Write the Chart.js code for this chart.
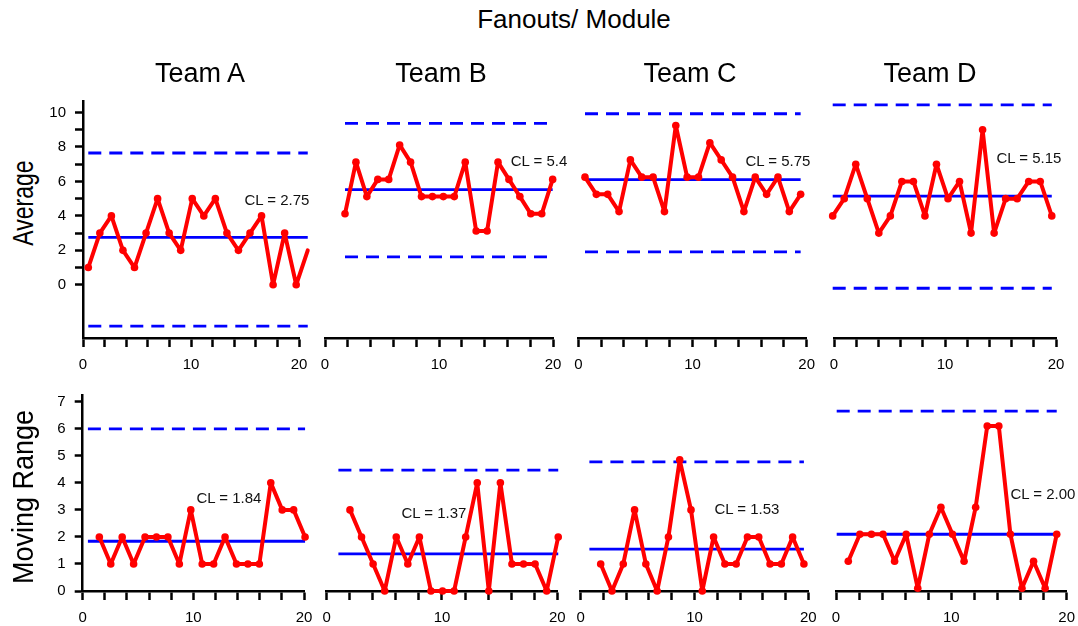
<!DOCTYPE html>
<html><head><meta charset="utf-8">
<script src="https://cdn.jsdelivr.net/npm/chart.js@4.4.0/dist/chart.umd.min.js"></script>
<style>
body{margin:0;background:#fff;width:1078px;height:626px;overflow:hidden;position:relative;font-family:"Liberation Sans",Arial,sans-serif;}
.t{position:absolute;white-space:nowrap;color:#000;transform:translate(-50%,-50%);line-height:1;}
canvas{position:absolute;}
</style></head><body>
<script>
// ---------------- DATA ----------------
const teams = ['Team A','Team B','Team C','Team D'];
const avgIndex = [1,2,3,4,5,6,7,8,9,10,11,12,13,14,15,16,17,18,19,20];
const mrIndex  = [2,3,4,5,6,7,8,9,10,11,12,13,14,15,16,17,18,19,20];
const avgA = [1,3,4,2,1,3,5,3,2,5,4,5,3,2,3,4,0,3,0,2];
const avgB = [4,7,5,6,6,8,7,5,5,5,5,7,3,3,7,6,5,4,4,6];
const avgC = [6,5,5,4,7,6,6,4,9,6,6,8,7,6,4,6,5,6,4,5];
const avgD = [4,5,7,5,3,4,6,6,4,7,5,6,3,9,3,5,5,6,6,4];
const mrA = [2,1,2,1,2,2,2,1,3,1,1,2,1,1,1,4,3,3,2];
const mrB = [3,2,1,0,2,1,2,0,0,0,2,4,0,4,1,1,1,0,2];
const mrC = [1,0,1,3,1,0,2,4.85,3,0,2,1,1,2,2,1,1,2,1];
const mrD = [1,2,2,2,1,2,0,2,3,2,1,3,6,6,2,0,1,0,2];
const avgCL  = [2.75, 5.4, 5.85, 5.15];
const avgUCL = [7.65, 9.25, 9.68, 10.45];
const avgLCL = [-2.4, 1.5, 1.66, -0.2];
const mrCL  = [1.84, 1.37, 1.55, 2.0];
const mrUCL = [6.0, 4.47, 4.78, 6.55];
const avgCLText = ['CL = 2.75','CL = 5.4','CL = 5.75','CL = 5.15'];
const mrCLText  = ['CL = 1.84','CL = 1.37','CL = 1.53','CL = 2.00'];
const avgTickMarks  = [0,1,2,3,4,5,6,7,8,9,10];
const avgTickLabels = [0,2,4,6,8,10];
const mrTickMarks  = [0,1,2,3,4,5,6,7];
const mrTickLabels = [0,1,2,3,4,5,6,7];
const xTickMarks  = [0,2,4,6,8,10,12,14,16,18,20];
const xTickLabels = [0,10,20];
const avgSeries = [avgA, avgB, avgC, avgD];
const mrSeries  = [mrA, mrB, mrC, mrD];

// ---------------- LAYOUT ----------------
const FONT = '"Liberation Sans", Arial, sans-serif';
const RED = '#ff0000', BLUE = '#0000ff';
const TOP = {T:101.7, B:338.3, ymin:-3.09, ymax:10.63};
const BOT = {T:395, B:590.7, ymin:0, ymax:7.25};
const topPanels = [
  {L:83,    R:299,    p1:88.3,  s:11.55, shift:0},
  {L:325,   R:553,    p1:345,   s:10.93, shift:0.12},
  {L:578.3, R:806.7,  p1:585,   s:11.35, shift:0.25},
  {L:834,   R:1056,   p1:832.7, s:11.53, shift:0}
];
const botPanels = [
  {L:82.7,  R:304,    p1:87.9,  s:11.43, shift:0},
  {L:326.7, R:557.3,  p1:338.4, s:11.57, shift:0},
  {L:580.7, R:808.3,  p1:589.4, s:11.29, shift:0},
  {L:836,   R:1066.7, p1:836.7, s:11.58, shift:0.1}
];
const avgLabelPos = [[277,199],[539,160],[778,160],[1029,157]];
const mrLabelPos  = [[229,497],[434,512],[747,508],[1043,493]];
const teamPos = [200,441,690,930];

function addText(txt, x, y, size, extra){
  const d = document.createElement('div');
  d.className = 't';
  d.textContent = txt;
  d.style.left = x + 'px'; d.style.top = y + 'px';
  d.style.fontSize = size + 'px';
  if (extra) Object.assign(d.style, extra);
  document.body.appendChild(d);
}

function makePanel(p, row, idx, xs, ys, cl, ucl, lcl, tickMarks, tickLabels){
  const yw = idx === 0 ? 43 : 0;
  const xh = 40;
  const padTop = 22, padRight = 22, padLeft = idx === 0 ? 0 : 14;
  const left = Math.round(p.L - yw - padLeft);
  const top = Math.round(row.T - padTop);
  const width = Math.round(p.R + padRight) - left;
  const height = Math.round(row.B + xh) - top;
  const cv = document.createElement('canvas');
  cv.width = width; cv.height = height;
  cv.style.left = left + 'px'; cv.style.top = top + 'px';
  cv.style.width = width + 'px'; cv.style.height = height + 'px';
  document.body.appendChild(cv);
  const realPadLeft = p.L - yw - left;
  const realPadTop = row.T - top;
  const realPadRight = left + width - p.R;

  const last = xs[xs.length-1];
  const lineOpts = {borderColor:BLUE, borderWidth:2.8, pointRadius:0, xAxisID:'xd', yAxisID:'y', clip:false};
  const datasets = [
    {data: xs.map((x,i)=>({x:x, y:ys[i]})), borderColor:RED, backgroundColor:RED,
     borderWidth:4, pointRadius:3.8, pointBackgroundColor:RED, pointBorderWidth:0,
     borderJoinStyle:'round', borderCapStyle:'round',
     xAxisID:'xd', yAxisID:'y', clip:false, tension:0},
    Object.assign({data:[{x:1,y:cl},{x:last,y:cl}]}, lineOpts),
    Object.assign({data:[{x:1,y:ucl},{x:last,y:ucl}], borderDash:[13,8]}, lineOpts)
  ];
  if (lcl !== null) datasets.push(Object.assign({data:[{x:1,y:lcl},{x:last,y:lcl}], borderDash:[13,8]}, lineOpts));

  new Chart(cv, {
    type:'line',
    data:{datasets},
    options:{
      responsive:false, animation:false, events:[],
      layout:{padding:{left:realPadLeft, top:realPadTop, right:realPadRight, bottom:0}},
      plugins:{legend:{display:false}, tooltip:{enabled:false}},
      scales:{
        x:{type:'linear', position:'bottom', min:0, max:20,
           afterBuildTicks: ax => { ax.ticks = xTickMarks.map(v=>({value:v})); },
           ticks:{autoSkip:false, maxRotation:0, padding:9, color:'#000',
             font:{family:FONT, size:15},
             callback: v => xTickLabels.includes(v) ? String(v) : ''},
           grid:{drawOnChartArea:false, drawTicks:true, tickLength:9, tickWidth:2.5, tickColor:'#000'},
           border:{display:true, color:'#000', width:2.5},
           afterFit: s => { s.height = xh; }},
        xd:{type:'linear', display:false, position:'bottom',
            min: 1 - (p.p1 - p.L)/p.s, max: 1 + (p.R - p.p1)/p.s},
        y:{type:'linear', display: idx === 0, position:'left',
           min: row.ymin - p.shift, max: row.ymax - p.shift,
           afterBuildTicks: ax => { ax.ticks = tickMarks.map(v=>({value:v})); },
           ticks:{autoSkip:false, padding:9, color:'#000', font:{family:FONT, size:15},
             callback: v => tickLabels.includes(v) ? String(v) : ''},
           grid:{drawOnChartArea:false, drawTicks:true, tickLength:8, tickWidth:2.5, tickColor:'#000'},
           border:{display:true, color:'#000', width:2.5},
           afterFit: s => { s.width = yw; }}
      }
    }
  });
}

for (let i = 0; i < 4; i++){
  makePanel(topPanels[i], TOP, i, avgIndex, avgSeries[i], avgCL[i], avgUCL[i], avgLCL[i], avgTickMarks, avgTickLabels);
  makePanel(botPanels[i], BOT, i, mrIndex, mrSeries[i], mrCL[i], mrUCL[i], null, mrTickMarks, mrTickLabels);
  addText(avgCLText[i], avgLabelPos[i][0], avgLabelPos[i][1], 15, {color:'#111'});
  addText(mrCLText[i], mrLabelPos[i][0], mrLabelPos[i][1], 15, {color:'#111'});
  addText(teams[i], teamPos[i], 73, 27);
}
addText('Fanouts/ Module', 574, 19, 26);
addText('Average', 24, 203, 23, {transform:'translate(-50%,-50%) rotate(-90deg) scaleY(1.25)'});
addText('Moving Range', 24, 497, 27, {transform:'translate(-50%,-50%) rotate(-90deg) scaleY(1.1)'});
</script>
</body></html>
